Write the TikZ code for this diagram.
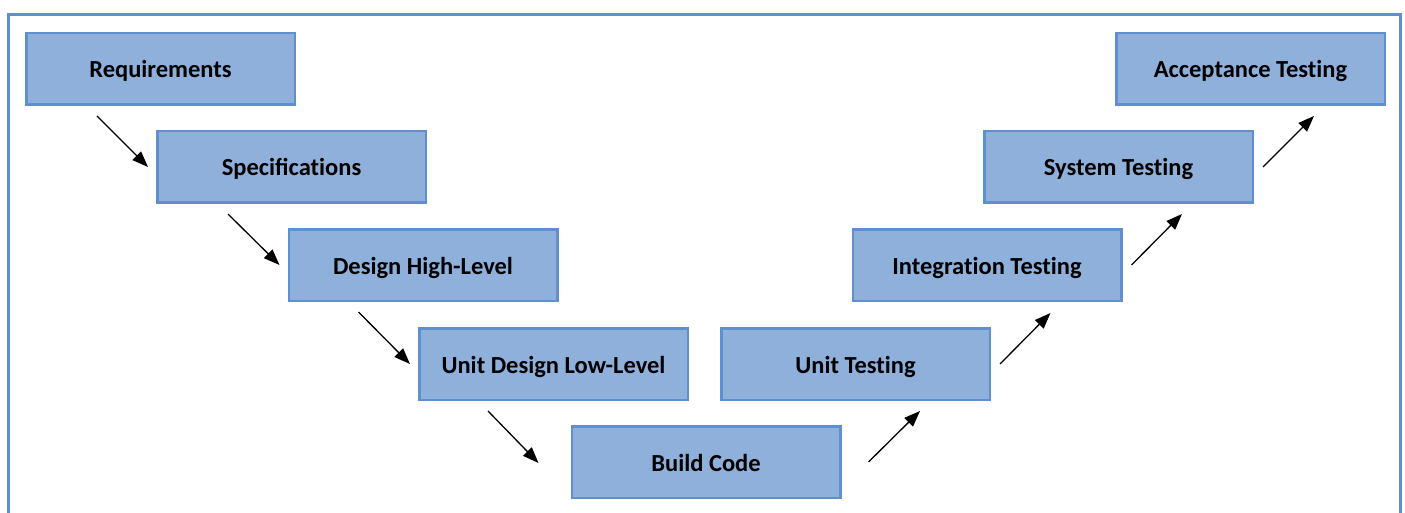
\documentclass[tikz,border=0pt]{standalone}
\usepackage{fontspec}
\setmainfont{Carlito}
\usetikzlibrary{arrows.meta}
\definecolor{boxfill}{RGB}{142,176,219}
\definecolor{boxline}{RGB}{95,144,205}
\newcommand\brk{\kern0pt{}}
\begin{document}
\begin{tikzpicture}[x=1pt,y=-1pt,
  stagebox/.style={draw=boxline, fill=boxfill, line width=2.5pt, minimum width=268.5pt, minimum height=71.5pt, inner sep=0pt,
    text height=18pt, text depth=0pt,
    font=\fontsize{24.5}{29}\selectfont\bfseries, text=black},
  arr/.style={line width=1.3pt, -{Triangle[length=16pt,width=12pt]}}]
\useasboundingbox (0,0) rectangle (1405,513);
\begin{scope}
\clip (0,0) rectangle (1405,513);
\draw[boxline, line width=2.5pt] (8.5,14.5) rectangle (1400.5,540);
\end{scope}
\node[stagebox] (b1) at (160.5,69) {Requirements};
\node[stagebox] (b2) at (291.5,167) {Specificat\brk ions};
\node[stagebox] (b3) at (423,265) {Design High-Level};
\node[stagebox] (b4) at (553.5,364) {Unit Design Low-Level};
\node[stagebox] (b5) at (706,462) {Build Code};
\node[stagebox] (b6) at (855.5,364) {Unit Test\brk ing};
\node[stagebox] (b7) at (987,265) {Integrat\brk ion Test\brk ing};
\node[stagebox] (b8) at (1118.5,167) {System Test\brk ing};
\node[stagebox] (b9) at (1250.5,69) {Acceptance Test\brk ing};
\draw[arr] ([shift={(72,10)}]b1.south west) -- ([shift={(-8,0)}]b2.west);
\draw[arr] ([shift={(72,10)}]b2.south west) -- ([shift={(-8,0)}]b3.west);
\draw[arr] ([shift={(71,10)}]b3.south west) -- ([shift={(-8,0)}]b4.west);
\draw[arr] ([shift={(70,10)}]b4.south west) -- ([shift={(-32,1)}]b5.west);
\draw[arr] ([shift={(27,0)}]b5.east) -- ([shift={(200,10)}]b6.south west);
\draw[arr] ([shift={(9,0)}]b6.east) -- ([shift={(199,11)}]b7.south west);
\draw[arr] ([shift={(9,0)}]b7.east) -- ([shift={(199,10)}]b8.south west);
\draw[arr] ([shift={(9,0)}]b8.east) -- ([shift={(199,10)}]b9.south west);
\end{tikzpicture}
\end{document}
